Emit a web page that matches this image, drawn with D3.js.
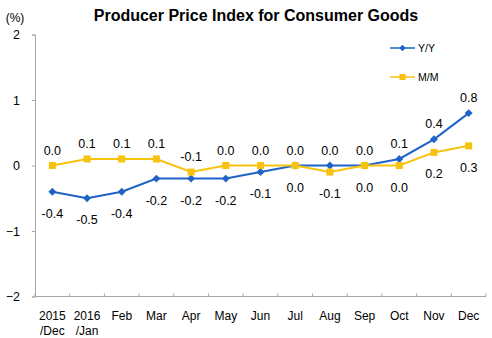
<!DOCTYPE html>
<html>
<head>
<meta charset="utf-8">
<script src="https://cdn.jsdelivr.net/npm/d3@7"></script>
<style>
	body { margin: 0; background: #fff; }
	text { font-family: "Liberation Sans", Arial, sans-serif; fill: #000; }
</style>
</head>
<body>
<svg width="492" height="338"></svg>
<script>
const categories = ["2015\n/Dec", "2016\n/Jan", "Feb", "Mar", "Apr", "May", "Jun", "Jul", "Aug", "Sep", "Oct", "Nov", "Dec"];
const yoy = [-0.4, -0.5, -0.4, -0.2, -0.2, -0.2, -0.1, 0.0, 0.0, 0.0, 0.1, 0.4, 0.8];
const mom = [0.0, 0.1, 0.1, 0.1, -0.1, 0.0, 0.0, 0.0, -0.1, 0.0, 0.0, 0.2, 0.3];
// from Aug on the Y/Y labels sit above and M/M below
const yoyAbove = [0, 0, 0, 0, 0, 0, 0, 0, 1, 1, 1, 1, 1];
const yTicks = [-2, -1, 0, 1, 2];

const blue = "#1f63c6", yellow = "#f7c20c";

let svg = d3.select("svg");

let x = d3.scaleBand()
	.domain(d3.range(categories.length))
	.range([35, 486]);

let y = d3.scaleLinear()
	.domain([-2, 2])
	.range([296.5, 34.5]);

let cx = i => x(i) + x.bandwidth() / 2;

// title
svg.append("text")
	.attr("x", 256)
	.attr("y", 21)
	.attr("text-anchor", "middle")
	.style("font-size", "16px")
	.style("font-weight", "bold")
	.text("Producer Price Index for Consumer Goods");

svg.append("text")
	.attr("x", 15)
	.attr("y", 22)
	.attr("text-anchor", "middle")
	.style("font-size", "12px")
	.text("(%)");

// y axis
let yAxis = svg.append("g")
	.attr("transform", "translate(35,0)")
	.call(d3.axisLeft(y).tickValues(yTicks).tickSize(3).tickPadding(12).tickFormat(d3.format("d")));
yAxis.selectAll("line, path").attr("stroke", "#a6a6a6");
yAxis.selectAll("text").style("font-size", "12.5px").attr("fill", "#000");

// x axis
let xAxis = svg.append("g")
	.attr("transform", "translate(0," + y(-2) + ")");
xAxis.append("line")
	.attr("x1", 35).attr("x2", 486)
	.attr("stroke", "#a6a6a6");
xAxis.selectAll(".tk")
	.data(d3.range(categories.length + 1))
	.enter().append("line")
	.attr("x1", d => 35 + d * x.step())
	.attr("x2", d => 35 + d * x.step())
	.attr("y1", 0).attr("y2", -3)
	.attr("stroke", "#a6a6a6");
xAxis.selectAll(".lbl")
	.data(categories)
	.enter().append("text")
	.attr("text-anchor", "middle")
	.style("font-size", "12px")
	.each(function (d, i) {
		let parts = d.split("\n");
		let t = d3.select(this);
		parts.forEach((p, k) => {
			t.append("tspan")
				.attr("x", cx(i))
				.attr("y", 23 + k * 15)
				.text(p);
		});
	});

let line = d3.line()
	.x((d, i) => cx(i))
	.y(d => y(d));

// Y/Y
svg.append("path")
	.datum(yoy)
	.attr("fill", "none")
	.attr("stroke", blue)
	.attr("stroke-width", 2)
	.attr("d", line);
svg.append("g").selectAll("path")
	.data(yoy)
	.enter().append("path")
	.attr("d", d3.symbol(d3.symbolDiamond2, 40))
	.attr("transform", (d, i) => "translate(" + cx(i) + "," + y(d) + ")")
	.attr("fill", blue);

// M/M (drawn on top)
svg.append("path")
	.datum(mom)
	.attr("fill", "none")
	.attr("stroke", yellow)
	.attr("stroke-width", 2)
	.attr("d", line);
svg.append("g").selectAll("rect")
	.data(mom)
	.enter().append("rect")
	.attr("x", (d, i) => cx(i) - 3.5)
	.attr("y", d => y(d) - 3.5)
	.attr("width", 7).attr("height", 7)
	.attr("fill", yellow);

// data labels
svg.append("g").selectAll("text")
	.data(yoy)
	.enter().append("text")
	.attr("x", (d, i) => cx(i))
	.attr("y", (d, i) => y(d) + (yoyAbove[i] ? -11 : 26))
	.attr("text-anchor", "middle")
	.style("font-size", "12.5px")
	.text(d => d.toFixed(1));
svg.append("g").selectAll("text")
	.data(mom)
	.enter().append("text")
	.attr("x", (d, i) => cx(i))
	.attr("y", (d, i) => y(d) + (yoyAbove[i] ? 26 : -11))
	.attr("text-anchor", "middle")
	.style("font-size", "12.5px")
	.text(d => d.toFixed(1));

// legend
let legend = svg.append("g").attr("transform", "translate(390,0)");
legend.append("line")
	.attr("x1", 0).attr("x2", 25).attr("y1", 48).attr("y2", 48)
	.attr("stroke", blue).attr("stroke-width", 1.5);
legend.append("path")
	.attr("d", d3.symbol(d3.symbolDiamond2, 25))
	.attr("transform", "translate(12.5,48)")
	.attr("fill", blue);
legend.append("text")
	.attr("x", 28).attr("y", 52)
	.style("font-size", "10.5px")
	.attr("fill", "#333")
	.text("Y/Y");
legend.append("line")
	.attr("x1", 0).attr("x2", 25).attr("y1", 77).attr("y2", 77)
	.attr("stroke", yellow).attr("stroke-width", 1.5);
legend.append("rect")
	.attr("x", 9.5).attr("y", 74).attr("width", 6).attr("height", 6)
	.attr("fill", yellow);
legend.append("text")
	.attr("x", 28).attr("y", 81)
	.style("font-size", "10.5px")
	.attr("fill", "#333")
	.text("M/M");
</script>
</body>
</html>
